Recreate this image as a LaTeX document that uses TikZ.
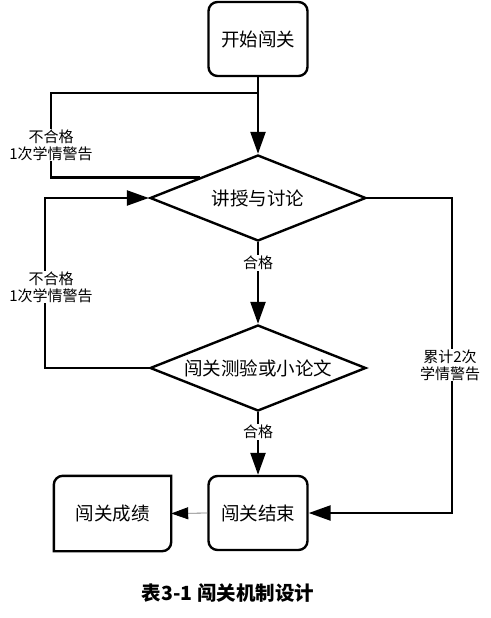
\documentclass[tikz,border=0pt]{standalone}
\usepackage{fontspec}
\setmainfont{Noto Sans CJK SC}
\usetikzlibrary{shapes.geometric,arrows.meta,calc}
\begin{document}
\begin{tikzpicture}[x=1pt,y=1pt,
  line width=2.4pt,
  boxnode/.style={draw,rounded corners=9pt,minimum width=99pt,minimum height=74pt,inner sep=0pt,font=\fontsize{18.5}{20}\selectfont},
  decision/.style={draw,diamond,inner sep=0pt,minimum width=216pt,minimum height=86pt,aspect=2.5,font=\fontsize{18.5}{20}\selectfont},
  lbl/.style={fill=white,inner sep=1pt,align=center,font=\fontsize{15}{17}\selectfont},
  arr/.style={-{Triangle[length=22pt,width=15pt]}}]
\useasboundingbox (0,0) rectangle (490,-618);
\node[boxnode] (start) at (258,-39) {开始闯关};
\node[decision] (d1) at (258,-198) {讲授与讨论};
\node[decision] (d2) at (258,-368) {闯关测验或小论文};
\node[boxnode] (end) at (258,-513) {闯关结束};
\node[minimum width=115pt,minimum height=73pt,inner sep=0pt,font=\fontsize{18.5}{20}\selectfont] (score) at (112.5,-513.5) {闯关成绩};
\draw (score.south west) -- ([yshift=-9pt]score.north west) arc(180:90:9pt) -- (score.north east) -- ([yshift=9pt]score.south east) arc(0:-90:9pt) -- cycle;
% main flow
\coordinate (j1) at (start.south |- 0,-93);
\coordinate (e1) at ($(d1.west)!0.465!(d1.north)$);
\draw[arr] (start.south) -- (d1.north);
\draw (j1) -- (51,-93) coordinate (c1) -- (c1 |- e1) -- (e1);
\node[lbl] (l1) at (51,-145) {不合格\\1次学情警告};
\draw[arr] (d2.west) -- (45,-368) coordinate (c2) |- (d1.west);
\node[lbl] (l2) at (51,-287) {不合格\\1次学情警告};
\draw[arr] (d1.south) -- (d2.north);
\node[lbl] (l3) at (258,-263) {合格};
\draw[arr] (d2.south) -- (end.north);
\node[lbl] (l4) at (258,-432) {合格};
\draw[arr] (d1.east) -- (452,-198) coordinate (c3) |- (end.east);
\node[lbl] (l5) at (450,-365) {累计2次\\学情警告};
\draw[line width=0.8pt,draw=gray,-{Triangle[length=17pt,width=12pt,color=black]}] (end.west) -- (score.east);
\node[font=\fontsize{19.5}{22}\selectfont\bfseries] (cap) at (228,-593) {表3-1 闯关机制设计};
\end{tikzpicture}
\end{document}
